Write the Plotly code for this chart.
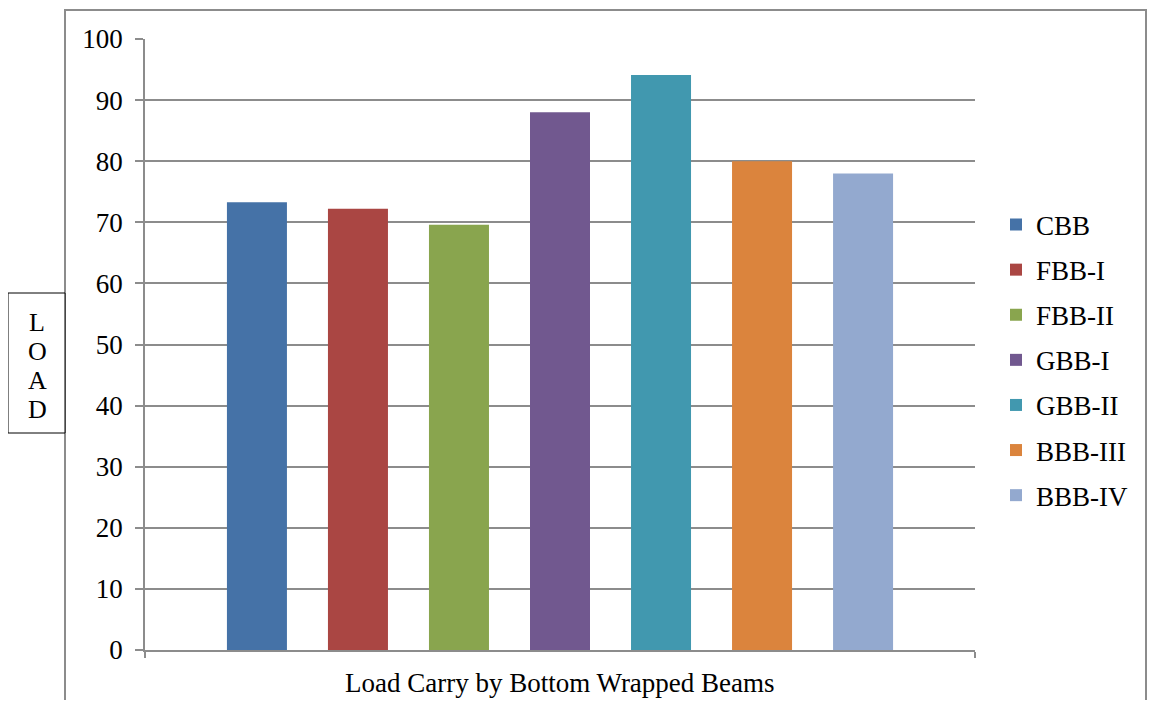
import plotly.graph_objects as go

series = ["CBB", "FBB-I", "FBB-II", "GBB-I", "GBB-II", "BBB-III", "BBB-IV"]
values = [73.3, 72.2, 69.6, 88.0, 94.1, 80.0, 78.0]
colors = ["#4572A7", "#AA4643", "#89A54E", "#71588F", "#4198AF", "#DB843D", "#93A9CF"]
category = ["Load Carry by Bottom Wrapped Beams"]
y_ticks = list(range(0, 101, 10))
y_label = ["L", "O", "A", "D"]

FONT = "Liberation Serif, Times New Roman, serif"
fs = 27

fig = go.Figure()
for name, v, c in zip(series, values, colors):
    fig.add_trace(go.Bar(x=category, y=[v], name=name, marker=dict(color=c, line=dict(width=0)),
                         legendgroup=name))

# page body has an 8px margin; work in reference-image pixels
OFF = 8
W, H = 1156 - 2 * OFF, 708 - 2 * OFF
L, T = 145 - OFF, 39 - OFF
pw, ph = 830, 611
R = W - L - pw
B = H - T - ph

def px(x):
    return (x - 145) / pw

def py(y):
    return (650 - y) / ph

annotations = [
    dict(text=category[0], xref="paper", yref="paper", x=px(560), y=py(683),
         xanchor="center", yanchor="middle", showarrow=False,
         font=dict(family=FONT, size=fs, color="black")),
]
for i, ch in enumerate(y_label):
    annotations.append(dict(text=ch, xref="paper", yref="paper", x=px(37), y=py(322 + 29.3 * i),
                            xanchor="center", yanchor="middle", showarrow=False,
                            font=dict(family=FONT, size=26, color="black")))

fig.update_layout(
    width=W, height=H,
    margin=dict(l=L, r=R, t=T, b=B, pad=0),
    paper_bgcolor="white", plot_bgcolor="white",
    font=dict(family=FONT, size=fs, color="black"),
    barmode="group", bargap=0.148, bargroupgap=0.406,
    showlegend=True,
    legend=dict(x=px(996), xanchor="left", y=py(360), yanchor="middle",
                tracegroupgap=7, font=dict(family=FONT, size=fs, color="black"),
                bgcolor="rgba(0,0,0,0)"),
    xaxis=dict(showticklabels=False, ticks="outside", tickson="boundaries", ticklen=6,
               tickcolor="#8c8c8c", tickwidth=1.5, showline=True, linecolor="#8c8c8c",
               linewidth=1.5, showgrid=False, zeroline=False, range=[-0.5, 0.5]),
    yaxis=dict(range=[0, 100], tickvals=y_ticks, ticks="outside", ticklen=8,
               tickcolor="#8c8c8c", tickwidth=1.5, showline=True, linecolor="#8c8c8c",
               linewidth=1.5, showgrid=True, gridcolor="#8c8c8c", gridwidth=1.5,
               zeroline=False, ticklabelstandoff=7,
               tickfont=dict(family=FONT, size=27, color="black")),
    shapes=[
        dict(type="rect", xref="paper", yref="paper", x0=px(65), x1=px(1146), y0=py(730), y1=py(10),
             line=dict(color="#8c8c8c", width=2), fillcolor="rgba(0,0,0,0)", layer="below"),
        dict(type="rect", xref="paper", yref="paper", x0=px(8), x1=px(65), y0=py(433), y1=py(293),
             line=dict(color="black", width=1), fillcolor="white", layer="below"),
    ],
    annotations=annotations,
)

fig.write_html("out.html")
